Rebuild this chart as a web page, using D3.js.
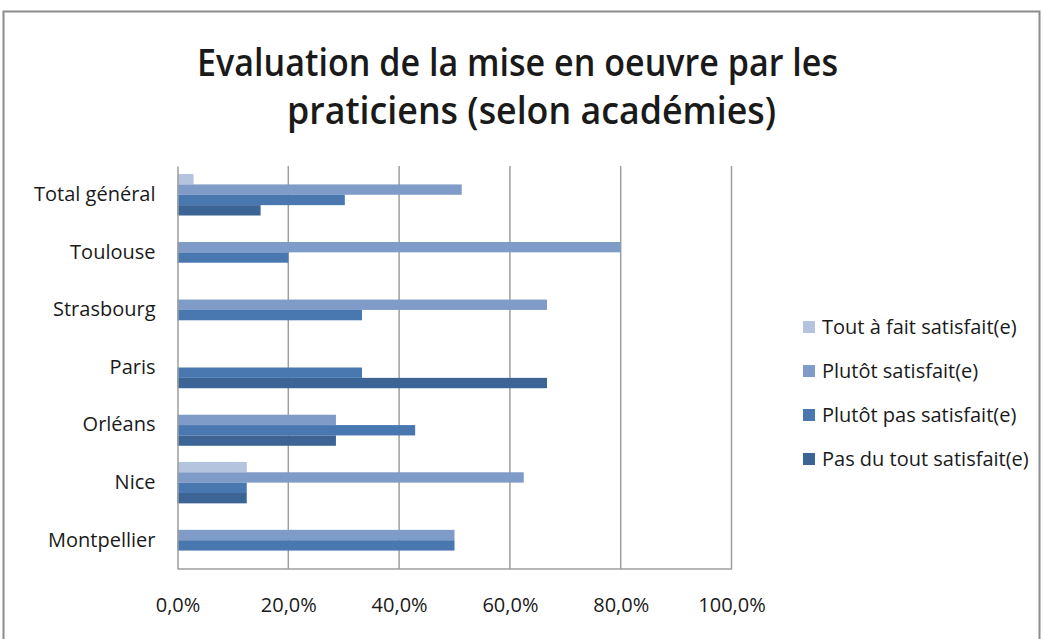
<!DOCTYPE html>
<html>
<head>
<meta charset="utf-8">
<script src="https://cdn.jsdelivr.net/npm/d3@7"></script>
<style>
  body { margin: 0; background: #fff; }
  text { font-family: "Open Sans", "Noto Sans", sans-serif; fill: #1a1a1a; }
</style>
</head>
<body>
<div id="chart"></div>
<script>
const categories = ["Total général", "Toulouse", "Strasbourg", "Paris", "Orléans", "Nice", "Montpellier"];
const seriesNames = ["Tout à fait satisfait(e)", "Plutôt satisfait(e)", "Plutôt pas satisfait(e)", "Pas du tout satisfait(e)"];
const toutAFait = [0.029, 0, 0, 0, 0, 0.125, 0];
const plutotSatisfait = [0.513, 0.8, 0.667, 0, 0.286, 0.625, 0.5];
const plutotPas = [0.302, 0.2, 0.333, 0.333, 0.429, 0.125, 0.5];
const pasDuTout = [0.15, 0, 0, 0.667, 0.286, 0.125, 0];
const xTicks = [0, 0.2, 0.4, 0.6, 0.8, 1.0];
const colors = ["#b4c4df", "#7f9cc9", "#4978b1", "#3c6596"];

const seriesValues = [toutAFait, plutotSatisfait, plutotPas, pasDuTout];

const W = 1043, H = 639;
const svg = d3.select("#chart").append("svg")
    .attr("width", W)
    .attr("height", H);

// outer frame
svg.append("rect")
    .attr("x", 3.5).attr("y", 11.5)
    .attr("width", 1036).attr("height", 660)
    .attr("fill", "none")
    .attr("stroke", "#8c8c8c")
    .attr("stroke-width", 2);

// title
svg.append("text")
    .attr("x", 197).attr("y", 76)
    .attr("font-size", 37)
    .attr("font-weight", 600)
    .attr("textLength", 641)
    .attr("lengthAdjust", "spacingAndGlyphs")
    .text("Evaluation de la mise en oeuvre par les");
svg.append("text")
    .attr("x", 287).attr("y", 124)
    .attr("font-size", 37)
    .attr("font-weight", 600)
    .attr("textLength", 489)
    .attr("lengthAdjust", "spacingAndGlyphs")
    .text("praticiens (selon académies)");

const x = d3.scaleLinear().domain([0, 1]).range([177.5, 731.5]);
const y = d3.scaleBand().domain(categories).range([166, 569])
    .paddingInner(0.28).paddingOuter(0.14);
const ySub = d3.scaleBand().domain(d3.range(seriesNames.length)).range([0, y.bandwidth()]);

// gridlines
svg.append("g")
    .selectAll("line")
    .data(xTicks.slice(1))
    .enter().append("line")
    .attr("x1", d => x(d)).attr("x2", d => x(d))
    .attr("y1", 166).attr("y2", 569)
    .attr("stroke", "#9e9e9e")
    .attr("stroke-width", 1.5);

// bars
seriesValues.forEach((vals, si) => {
    svg.append("g")
        .selectAll("rect")
        .data(vals.map((v, i) => ({ cat: categories[i], v: v })).filter(d => d.v > 0))
        .enter().append("rect")
        .attr("x", x(0))
        .attr("y", d => y(d.cat) + ySub(si))
        .attr("width", d => x(d.v) - x(0))
        .attr("height", ySub.bandwidth())
        .attr("fill", colors[si]);
});

// axes lines
const xAxis = svg.append("g")
    .attr("transform", "translate(0,568.5)")
    .call(d3.axisBottom(x).tickValues(xTicks).tickSize(0).tickPadding(29)
        .tickFormat(d => d3.format(".1f")(d * 100).replace(".", ",") + "%"));
xAxis.select(".domain").attr("stroke", "#9e9e9e").attr("stroke-width", 1.5);
xAxis.selectAll("text").attr("font-size", 20).attr("fill", "#1a1a1a")
    .attr("font-family", "Open Sans, sans-serif");

const yAxis = svg.append("g")
    .attr("transform", "translate(177.5,0)")
    .call(d3.axisLeft(y).tickSize(0).tickPadding(22));
yAxis.select(".domain").attr("stroke", "#9e9e9e").attr("stroke-width", 1.5);
yAxis.selectAll("text").attr("font-size", 20).attr("fill", "#1a1a1a")
    .attr("font-family", "Open Sans, sans-serif");

// legend
const legend = svg.append("g")
    .selectAll("g")
    .data(seriesNames)
    .enter().append("g")
    .attr("transform", (d, i) => `translate(803,${327 + i * 44})`);
legend.append("rect")
    .attr("x", 0).attr("y", -6)
    .attr("width", 12).attr("height", 12)
    .attr("fill", (d, i) => colors[i]);
legend.append("text")
    .attr("x", 19).attr("y", 0)
    .attr("dy", "0.35em")
    .attr("font-size", 20)
    .text(d => d);
</script>
</body>
</html>
